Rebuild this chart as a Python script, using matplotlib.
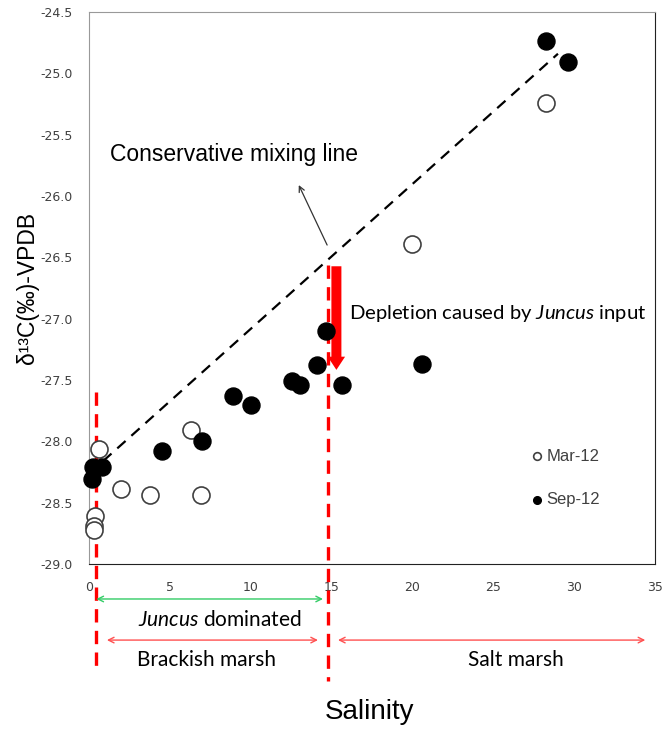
import matplotlib
matplotlib.use('Agg')
import matplotlib.pyplot as plt
from matplotlib import rcParams

rcParams['font.family'] = ['Liberation Sans', 'DejaVu Sans']
rcParams['mathtext.fontset'] = 'custom'
rcParams['mathtext.rm'] = 'Lato'
rcParams['mathtext.it'] = 'Lato:italic'

# Mar-12 samples (open circles)
mar_sal = [0.62, 1.98, 3.77, 6.31, 6.93, 19.97, 28.24, 0.37, 0.31, 0.31]
mar_d13c = [-28.06, -28.39, -28.44, -27.91, -28.44, -26.39, -25.24, -28.61, -28.69, -28.72]

# Sep-12 samples (filled circles)
sep_sal = [0.25, 0.80, 0.19, 4.51, 6.99, 8.90, 10.0, 12.55, 13.05, 14.1, 14.66, 15.65, 20.6, 28.24, 29.64]
sep_d13c = [-28.21, -28.21, -28.31, -28.08, -28.0, -27.63, -27.70, -27.51, -27.54, -27.38,
            -27.10, -27.54, -27.37, -24.74, -24.91]

# conservative mixing line end members
mix_sal = [0.88, 29.0]
mix_d13c = [-28.16, -24.84]

xticks = [0, 5, 10, 15, 20, 25, 30, 35]
yticks = [-29.0, -28.5, -28.0, -27.5, -27.0, -26.5, -26.0, -25.5, -25.0, -24.5]

fig = plt.figure(figsize=(6.63, 7.29), dpi=100)
ax = fig.add_axes([0.1342, 0.2263, 0.8537, 0.7572])

ax.plot(mix_sal, mix_d13c, color='black', lw=1.6, dashes=(5, 3.5), zorder=2)
ax.scatter(mar_sal, mar_d13c, s=150, facecolor='white', edgecolor='#404040',
           linewidths=1.2, zorder=3, label='Mar-12', clip_on=False)
ax.scatter(sep_sal, sep_d13c, s=150, facecolor='black', edgecolor='black',
           zorder=4, label='Sep-12', clip_on=False)

ax.set_xlim(0, 35)
ax.set_ylim(-29.0, -24.5)
ax.set_xticks(xticks)
ax.set_yticks(yticks)
ax.set_yticklabels(['%.1f' % v for v in yticks])
ax.tick_params(length=0, labelsize=9, labelcolor='#404040', pad=12)
for lbl in ax.get_xticklabels() + ax.get_yticklabels():
    lbl.set_family('DejaVu Sans')
for s in ['left', 'top']:
    ax.spines[s].set_color('#999999')
for s in ['bottom', 'right']:
    ax.spines[s].set_color('#222222')

ax.set_ylabel('δ¹³C(‰)-VPDB', fontsize=16.5, labelpad=1)

leg = ax.legend(loc='upper left', bbox_to_anchor=(0.751, 0.236), frameon=False,
                markerscale=0.45, handletextpad=0.05, labelspacing=1.7,
                handlelength=1.0, fontsize=12)
for t in leg.get_texts():
    t.set_color('#404040')

# conservative mixing line label
ax.text(1.3, -25.66, 'Conservative mixing line', fontsize=16.5, va='center')
ax.annotate('', xy=(12.9, -25.89), xytext=(14.8, -26.42),
            arrowprops=dict(arrowstyle='->', color='#333333', lw=0.9))

# depletion arrow
ax.annotate('', xy=(15.3, -27.44), xytext=(15.3, -26.55),
            arrowprops=dict(arrowstyle='simple,head_length=0.95,head_width=1.25,tail_width=0.72',
                            mutation_scale=10, color='red', lw=0))
ax.text(16.1, -26.96, 'Depletion caused by $\\mathit{Juncus}$ input', fontfamily='Lato',
        fontsize=14.6, va='center')

# red vertical boundaries
ax.plot([0.45, 0.45], [-27.60, -29.85], color='red', lw=2.4, dashes=(4, 2.5), clip_on=False)
ax.plot([14.8, 14.8], [-26.56, -29.95], color='red', lw=2.4, dashes=(4, 2.5), clip_on=False)

# zone annotations below the axis
ax.annotate('', xy=(0.46, -29.285), xytext=(14.47, -29.285), annotation_clip=False,
            arrowprops=dict(arrowstyle='<->', color='#33cc66', lw=1.0, shrinkA=0, shrinkB=0))
ax.text(8.07, -29.456, '$\\mathit{Juncus}$ dominated', fontfamily='Lato', fontsize=15,
        ha='center', va='center', clip_on=False)
ax.annotate('', xy=(1.11, -29.62), xytext=(14.16, -29.62), annotation_clip=False,
            arrowprops=dict(arrowstyle='<->', color='#ff5050', lw=1.0, shrinkA=0, shrinkB=0))
ax.annotate('', xy=(15.4, -29.62), xytext=(34.4, -29.62), annotation_clip=False,
            arrowprops=dict(arrowstyle='<->', color='#ff5050', lw=1.0, shrinkA=0, shrinkB=0))
ax.text(7.24, -29.78, 'Brackish marsh', fontfamily='Lato', fontsize=15,
        ha='center', va='center', clip_on=False)
ax.text(26.4, -29.78, 'Salt marsh', fontfamily='Lato', fontsize=15,
        ha='center', va='center', clip_on=False)

fig.text(369.6 / 663, 1 - 712 / 729, 'Salinity', fontsize=20, ha='center', va='center')

plt.savefig('out.png', dpi=100)
